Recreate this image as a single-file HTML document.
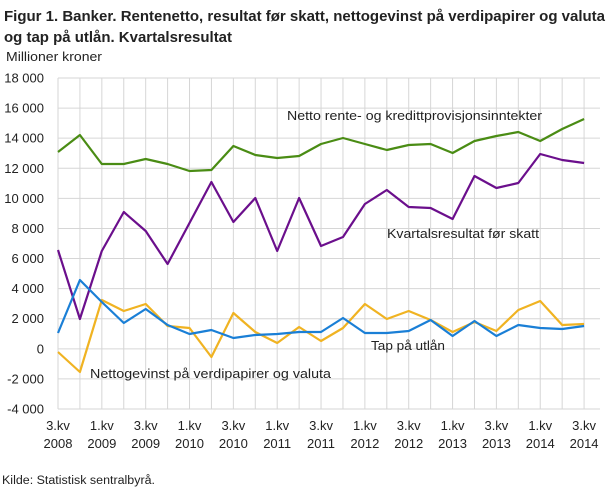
<!DOCTYPE html>
<html><head><meta charset="utf-8"><style>
body{margin:0;background:#fff;}
svg text{font-family:"Liberation Sans",sans-serif;fill:#222;}
</style></head><body>
<svg width="610" height="489" xmlns="http://www.w3.org/2000/svg">
<text x="4" y="21" font-size="15" font-weight="bold" textLength="601" lengthAdjust="spacingAndGlyphs">Figur 1. Banker. Rentenetto, resultat før skatt, nettogevinst på verdipapirer og valuta</text>
<text x="4" y="42" font-size="15" font-weight="bold" textLength="228" lengthAdjust="spacingAndGlyphs">og tap på utlån. Kvartalsresultat</text>
<text x="6" y="61" font-size="13" textLength="96" lengthAdjust="spacingAndGlyphs">Millioner  kroner</text>
<g id="grid" stroke="#d6d6d6" stroke-width="1"></g>
<g id="yl" font-size="13" text-anchor="end"></g>
<g id="xl" font-size="13" text-anchor="middle"></g>
<g id="lines" fill="none" stroke-width="2.2" stroke-linejoin="round"></g>
<text x="287" y="120" font-size="13" textLength="255" lengthAdjust="spacingAndGlyphs">Netto rente-  og kredittprovisjonsinntekter</text>
<text x="387" y="238" font-size="13" textLength="152" lengthAdjust="spacingAndGlyphs">Kvartalsresultat  før skatt</text>
<text x="371" y="350" font-size="13" textLength="74" lengthAdjust="spacingAndGlyphs">Tap på utlån</text>
<text x="90" y="378" font-size="13" textLength="241" lengthAdjust="spacingAndGlyphs">Nettogevinst  på verdipapirer  og valuta</text>
<text x="2" y="484" font-size="11.5" textLength="153" lengthAdjust="spacingAndGlyphs">Kilde: Statistisk sentralbyrå.</text>
</svg>
<script>
const ns="http://www.w3.org/2000/svg";
function el(p,t,a){const e=document.createElementNS(ns,t);for(const k in a)e.setAttribute(k,a[k]);p.appendChild(e);return e;}
const g=document.getElementById('grid'),yl=document.getElementById('yl'),xl=document.getElementById('xl'),L=document.getElementById('lines');
const x0=58,dx=21.92;
for(let i=0;i<=24;i++){const x=x0+i*dx;el(g,'line',{x1:x,x2:x,y1:78,y2:409});}
for(let v=18000,k=0;v>=-4000;v-=2000,k++){const y=78+k*(331/11);el(g,'line',{x1:58,x2:600,y1:y,y2:y});
 const t=el(yl,'text',{x:44,y:y+4.5});t.textContent=(v<0?'-':'')+(Math.abs(v)>=1000?Math.floor(Math.abs(v)/1000)+' 000':'0');}
const lab=[['3.kv','2008'],['1.kv','2009'],['3.kv','2009'],['1.kv','2010'],['3.kv','2010'],['1.kv','2011'],['3.kv','2011'],['1.kv','2012'],['3.kv','2012'],['1.kv','2013'],['3.kv','2013'],['1.kv','2014'],['3.kv','2014']];
lab.forEach((l,j)=>{const x=x0+2*j*dx;el(xl,'text',{x:x,y:430}).textContent=l[0];el(xl,'text',{x:x,y:448}).textContent=l[1];});
const S=[
['#4a8c14',[152,135,164,164,159,164,171,170,146,155,158,156,144,138,144,150,145,144,153,141,136,132,141,129,119]],
['#6b0f8c',[250,319,251,212,231,264,223,182,222,198,251,198,246,237,204,190,207,208,219,176,188,183,154,160,163]],
['#f0b322',[352,372,300,311,304,326,328,357,313,332,343,327,341,328,304,319,311,320,332,322,331,310,301,325,324]],
['#1a7fd6',[333,280,302,323,309,325,334,330,338,335,334,332,332,318,333,333,331,320,336,321,336,325,328,329,326]]];
S.forEach(s=>{el(L,'polyline',{stroke:s[0],points:s[1].map((y,i)=>(x0+i*dx).toFixed(1)+','+y).join(' ')});});
</script>
</body></html>
